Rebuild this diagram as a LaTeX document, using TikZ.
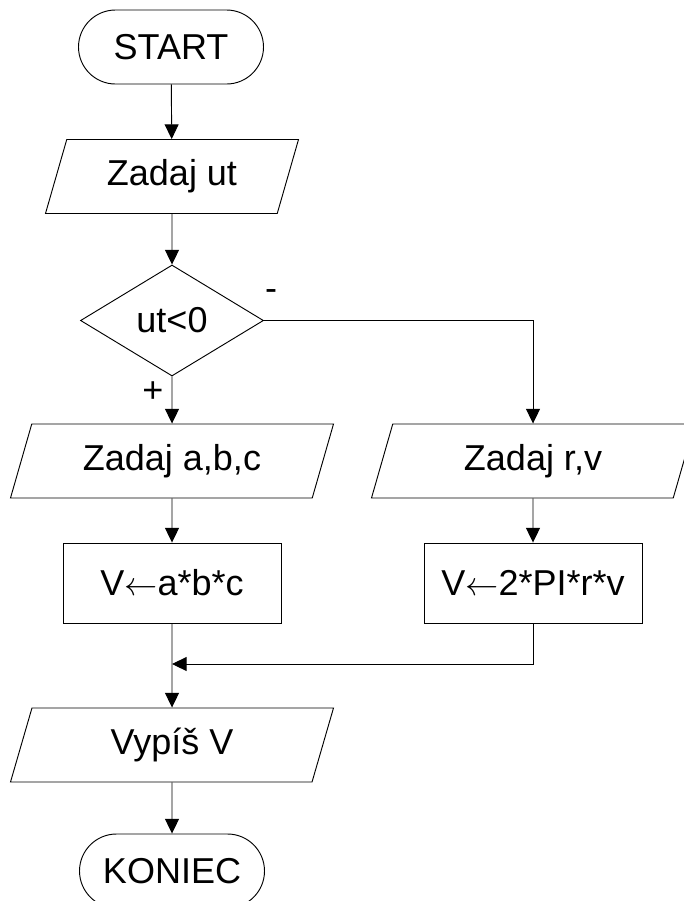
\documentclass[tikz,border=0pt]{standalone}
\usepackage{fontspec}
\setmainfont{Liberation Sans}
\usetikzlibrary{shapes.geometric,arrows.meta}

\begin{document}
\begin{tikzpicture}[x=0.75pt,y=-0.75pt,line width=0.7pt]
        \tikzstyle{every node}=[font=\fontsize{27}{32}\selectfont]
        \tikzstyle{term}=[draw, rectangle, rounded corners=27.75pt, minimum width=138.75pt, minimum height=55.5pt]
        \tikzstyle{io}=[draw, trapezium, trapezium left angle=63.4, trapezium right angle=116.6,
                        trapezium stretches body, minimum height=55.5pt, minimum width=242.25pt]
        \tikzstyle{proc}=[draw, rectangle, minimum width=163.5pt, minimum height=60pt]
        \tikzstyle{cond}=[draw, diamond, aspect=1.65, inner sep=0pt, minimum width=137.25pt, minimum height=83.25pt]
        \tikzstyle{flow}=[-{Triangle[width=10.5pt,length=11pt]}]

        \useasboundingbox (0,0) rectangle (684,901);

        % main branch
        \node (start) [term] at (171,47)    {START};
        \node (ut)    [io, minimum width=189.75pt] at (172,176.5) {Zadaj ut};
        \node (test)  [cond] at (172,320.5) {ut<0};
        \node (abc)   [io]   at (172,461)   {Zadaj a,b,c};
        \node (vabc)  [proc] at (172,583)   {V\(\leftarrow\)a*b*c};
        \node (vypis) [io]   at (172,745)   {Vypíš V};
        \node (end)   [term] at (172,871)   {KONIEC};

        % side branch
        \node (rv)    [io]   at (533,461)   {Zadaj r,v};
        \node (vrv)   [proc] at (533,583)   {V\(\leftarrow\)2*PI*r*v};

        \node (minus) at (271,295) {-};
        \node (plus)  at (153,392) {+};
        \coordinate (join) at (172,664);

        \draw[flow] (start) -- (ut);
        \draw[flow] (ut) -- (test);
        \draw[flow] (test.south) -- (abc.north);
        \draw[flow] (test.east) -| (rv.north);
        \draw[flow] (abc) -- (vabc);
        \draw[flow] (rv) -- (vrv);
        \draw[flow] (vabc.south) -- (vypis.north);
        \draw[flow] (vrv.south) |- (join);
        \draw[flow] (vypis) -- (end);

    \end{tikzpicture}
\end{document}
